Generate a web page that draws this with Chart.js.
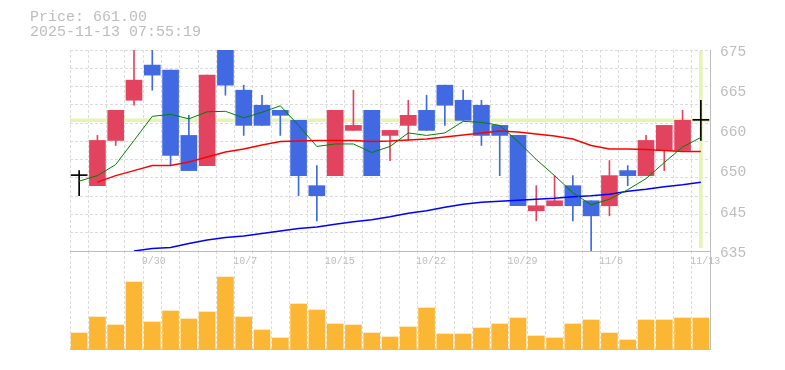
<!DOCTYPE html>
<html><head><meta charset="utf-8">
<script src="https://cdn.jsdelivr.net/npm/chart.js@4/dist/chart.umd.min.js"></script>
<style>
html,body{margin:0;padding:0;background:#fff;}
#wrap{position:relative;width:785px;height:370px;overflow:hidden;background:#fff;}
#vol{position:absolute;left:0;top:251px;}
#price{position:absolute;left:0;top:0;}
</style></head><body>
<div id="wrap">
<canvas id="vol" width="785" height="119"></canvas>
<canvas id="price" width="785" height="280"></canvas>
</div>
<script>
// ---- data ----
const dates = ['9/24','9/25','9/26','9/29','9/30','10/1','10/2','10/3','10/6','10/7','10/8','10/9','10/10','10/14','10/15','10/16','10/17','10/20','10/21','10/22','10/23','10/24','10/27','10/28','10/29','10/30','10/31','11/4','11/5','11/6','11/7','11/10','11/11','11/12','11/13'];
const shownDates = ['9/30','10/7','10/15','10/22','10/29','11/6','11/13'];
const opens  = [650,648,657,665,672,671,658,652,676,667,664,663,661,648,650,659,663,658,660,663,668,665,664,660,658,643,644,648,645,644,651,650,655,655,661];
const closes = [650,657,663,669,670,654,651,670,668,660,660,662,650,646,663,660,650,659,662,659,664,661,658,658,644,644,645,644,642,650,650,657,660,661,661];
const highs  = [651,658,663,677,676,671,662,670,678,668,666,663,661,652,663,667,663,659,665,666,668,667,665,660,658,648,650,650,645,653,652,658,660,663,665];
const lows   = [646,648,656,664,667,652,651,652,666,658,660,658,646,641,650,659,650,653,657,659,660,661,656,650,644,641,644,641,634,642,648,650,651,655,657];
const ma5  = [648.9,650.0,652.2,657.0,661.8,662.2,661.3,662.7,662.8,661.5,662.6,663.9,660.0,655.8,656.3,656.3,654.6,655.8,658.5,658.0,658.5,660.8,660.6,660.0,656.8,653.2,650.0,646.6,644.2,645.3,647.2,649.4,652.6,655.7,657.6];
const ma25 = [null,648.7,650.0,651.0,652.0,652.0,652.7,653.7,654.7,655.3,656.1,656.8,656.9,657.0,657.0,657.0,656.8,656.9,657.1,657.3,657.7,658.1,658.5,658.9,658.7,658.3,657.9,657.3,656.0,655.3,655.3,655.2,655.0,654.8,654.8];
const ma75 = [null,null,null,635.0,635.5,635.7,636.5,637.2,637.7,638.0,638.5,639.0,639.5,639.8,640.3,640.8,641.2,641.8,642.5,643.0,643.7,644.3,644.7,644.9,645.1,645.3,645.5,645.8,646.0,646.3,646.9,647.3,647.8,648.2,648.7];
const volumes = [16,32,24,67,27,38,30,37,72,32,19,11,45,39,25,24,16,12,22,41,15,15,21,25,31,13,11,25,29,16,9,29,29,31,31];
const priceTickValues = [675,667,659,651,643,635];
const priceTickLabels = ['675','665','660','650','645','635'];
const currentPrice = 661;
const currentIndex = 34;
const titleText = 'Price: 661.00';
const timestampText = '2025-11-13 07:55:19';

// ---- style ----
const FONT = '"Liberation Mono", "DejaVu Sans Mono", monospace';
const TEXT = '#bdbdbd';
const GRID = '#dcdcdc';
const AXIS = '#bdbdbd';
const UP = '#e2445f', DOWN = '#4169e1', FLAT = '#000000';
const PMIN = 635, PMAX = 675, GRID_DIV = 11;

const candleColor = opens.map((o, i) => closes[i] > o ? UP : (closes[i] < o ? DOWN : FLAT));

const highlight = {
  id: 'highlight',
  beforeDatasetsDraw(chart) {
    const {ctx, chartArea: a, scales} = chart;
    const py = scales.y.getPixelForValue(currentPrice);
    const px = scales.x.getPixelForValue(currentIndex);
    ctx.save();
    ctx.strokeStyle = '#e6f4b2';
    ctx.lineWidth = 3.5;
    ctx.beginPath();
    ctx.moveTo(a.left, py); ctx.lineTo(a.right, py);
    ctx.moveTo(px, a.top + 1); ctx.lineTo(px, a.bottom - 3);
    ctx.stroke();
    ctx.restore();
  }
};

new Chart(document.getElementById('price'), {
  type: 'bar',
  data: {
    labels: dates,
    datasets: [
      {type: 'line', label: 'MA5', data: ma5, borderColor: '#008000', borderWidth: 1, pointRadius: 0, tension: 0, order: 0, clip: 0, yAxisID: 'y'},
      {type: 'line', label: 'MA25', data: ma25, borderColor: '#ff0000', borderWidth: 1.5, pointRadius: 0, tension: 0, order: 1, clip: 0, yAxisID: 'y'},
      {type: 'line', label: 'MA75', data: ma75, borderColor: '#0000ff', borderWidth: 1.5, pointRadius: 0, tension: 0, order: 2, clip: 0, yAxisID: 'y'},
      {label: 'body', data: opens.map((o, i) => [o, closes[i]]), backgroundColor: candleColor, barThickness: 16, minBarLength: 1, grouped: false, order: 3, clip: 0, yAxisID: 'y'},
      {label: 'wick', data: lows.map((l, i) => [l, highs[i]]), backgroundColor: candleColor, barThickness: 1, grouped: false, order: 4, clip: 0, yAxisID: 'y'}
    ]
  },
  options: {
    responsive: false, animation: false, events: [],
    layout: {padding: {left: 30, top: 10, right: 0, bottom: 0}},
    plugins: {
      legend: {display: false}, tooltip: {enabled: false},
      title: {display: true, text: titleText, align: 'start', color: TEXT, font: {family: FONT, size: 15, weight: 'normal', lineHeight: 1}, padding: {top: 0, bottom: 0}},
      subtitle: {display: true, text: timestampText, align: 'start', color: TEXT, font: {family: FONT, size: 15, weight: 'normal', lineHeight: 1}, padding: {top: 0, bottom: 10}}
    },
    scales: {
      x: {
        offset: true,
        grid: {color: GRID, drawTicks: false, offset: true},
        border: {display: true, color: AXIS, width: 1, dash: [3, 2]},
        ticks: {autoSkip: false, maxRotation: 0, minRotation: 0, align: 'start', labelOffset: -10.5, padding: 4, color: TEXT, font: {family: FONT, size: 10},
          callback: (v, i) => shownDates.includes(dates[i]) ? dates[i] : ''},
        afterFit: s => { s.height = 29; }
      },
      yg: {
        position: 'left', min: PMIN, max: PMAX,
        ticks: {display: false},
        grid: {color: GRID, drawTicks: false},
        border: {display: false, dash: [3, 2]},
        afterBuildTicks: s => { const t = []; for (let i = 0; i <= GRID_DIV; i++) t.push({value: PMIN + i * (PMAX - PMIN) / GRID_DIV}); s.ticks = t; },
        afterFit: s => { s.width = 40; }
      },
      y: {
        position: 'right', min: PMIN, max: PMAX,
        grid: {display: false, drawTicks: false},
        border: {display: true, color: AXIS, width: 1},
        ticks: {padding: 10, color: TEXT, labelOffset: 2, font: {family: FONT, size: 14.5}, callback: (v, i) => priceTickLabels[i]},
        afterBuildTicks: s => { s.ticks = priceTickValues.map(v => ({value: v})); },
        afterFit: s => { s.width = 75; }
      }
    }
  },
  plugins: [highlight]
});

new Chart(document.getElementById('vol'), {
  type: 'bar',
  data: {labels: dates, datasets: [{label: 'Volume', data: volumes, backgroundColor: '#fbb733', barThickness: 16}]},
  options: {
    responsive: false, animation: false, events: [],
    layout: {padding: {left: 70, top: 0, right: 0, bottom: 0}},
    plugins: {legend: {display: false}, tooltip: {enabled: false}},
    scales: {
      x: {
        offset: true,
        grid: {color: GRID, drawTicks: false, offset: true},
        border: {display: true, color: AXIS, width: 1, dash: [3, 2]},
        ticks: {display: false},
        afterFit: s => { s.height = 21; }
      },
      y: {
        position: 'right', min: 0, max: 98,
        grid: {display: false, drawTicks: false},
        border: {display: true, color: AXIS, width: 1},
        ticks: {display: false},
        afterFit: s => { s.width = 75; }
      }
    }
  }
});
</script>
</body></html>
